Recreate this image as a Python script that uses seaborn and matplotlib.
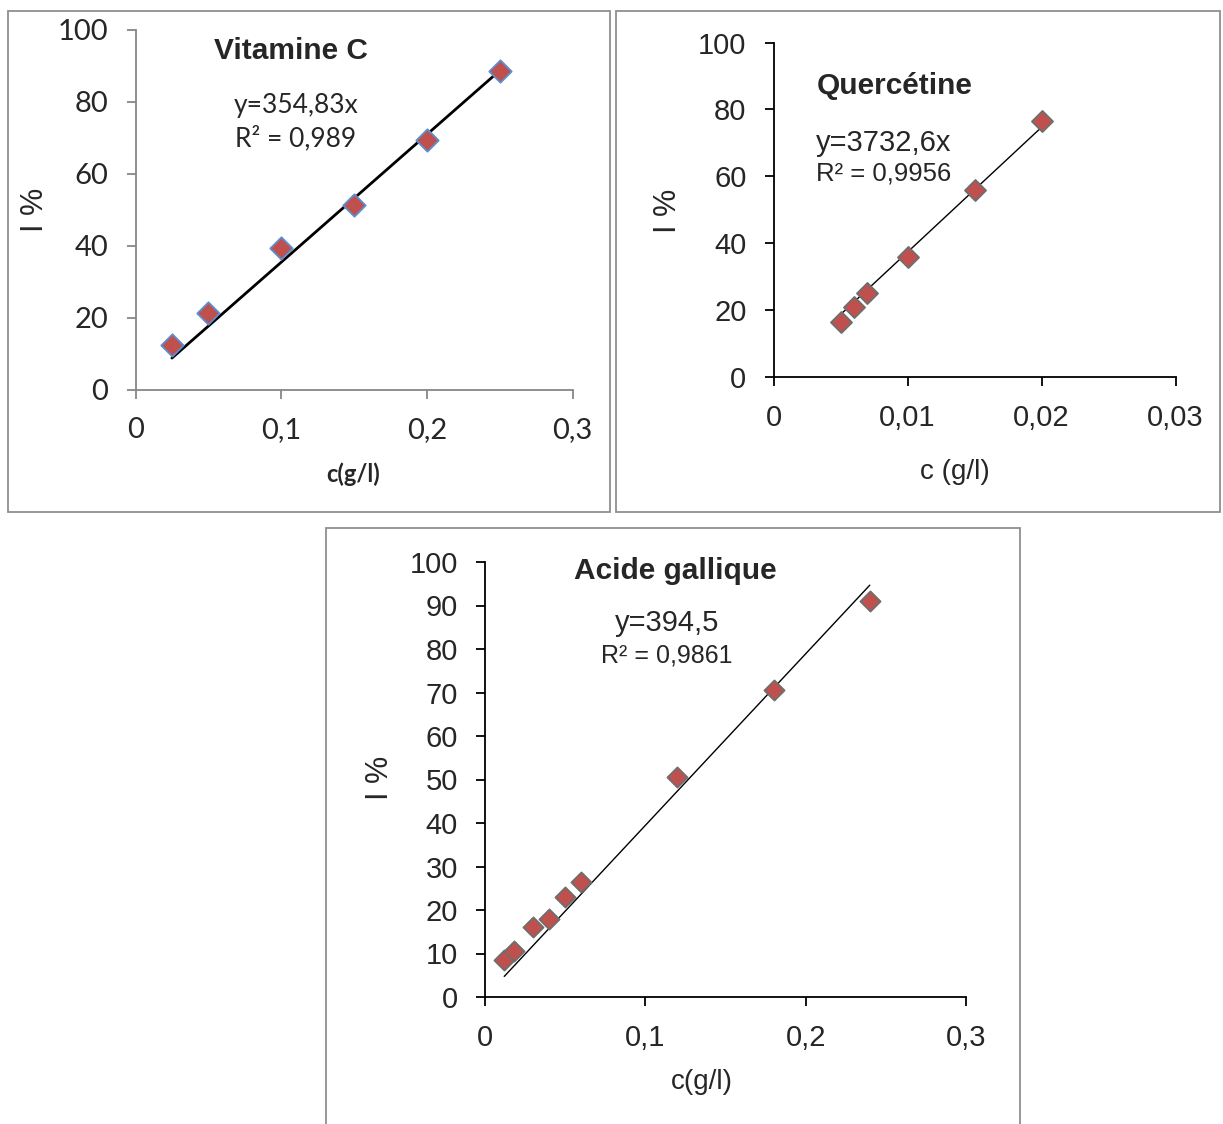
import matplotlib
matplotlib.use("Agg")
import matplotlib.pyplot as plt
import seaborn as sns
import pandas as pd
from matplotlib.patches import Rectangle

# data
vitc_c = [0.025, 0.05, 0.1, 0.15, 0.2, 0.25]
vitc_i = [12.5, 21.5, 39.5, 51.5, 69.5, 88.5]
vitc_slope = 354.83

querc_c = [0.005, 0.006, 0.007, 0.01, 0.015, 0.02]
querc_i = [16.5, 21.0, 25.0, 36.0, 56.0, 76.5]
querc_slope = 3732.6

gall_c = [0.012, 0.018, 0.03, 0.04, 0.05, 0.06, 0.12, 0.18, 0.24]
gall_i = [8.5, 10.5, 16.0, 18.0, 23.0, 26.5, 50.5, 70.5, 91.0]
gall_slope = 394.5

titles = ["Vitamine C", "Quercétine", "Acide gallique"]
equations = ["y=354,83x", "y=3732,6x", "y=394,5"]
r2_labels = ["R² = 0,989", "R² = 0,9956", "R² = 0,9861"]
xlabels = ["c(g/l)", "c (g/l)", "c(g/l)"]

sns.set_style("white")
plt.rcParams['font.family'] = ['Liberation Sans', 'DejaVu Sans']

W, H = 1223, 1124
fig = plt.figure(figsize=(W / 100, H / 100), dpi=100)


def box(l, t, r, b):
    # axes rectangle from pixel edges
    return [l / W, 1 - b / H, (r - l) / W, (b - t) / H]


def px(x, y):
    return x / W, 1 - y / H


# panel borders
for (l, t, r, b) in [(8, 11, 610, 512), (616, 11, 1220, 512), (326, 528, 1020, 1126)]:
    fig.patches.append(Rectangle((l / W, 1 - b / H), (r - l) / W, (b - t) / H,
                                 transform=fig.transFigure, fill=False,
                                 edgecolor="#8f8f8f", linewidth=1.3))


def panel(rect, c, i, slope, xmax, xstep, ystep, spine_col, edge_col, msize, lw, tickfont):
    ax = fig.add_axes(rect)
    df = pd.DataFrame({"c": c, "i": i})
    fit = pd.DataFrame({"c": [min(c), max(c)], "i": [slope * min(c), slope * max(c)]})
    sns.lineplot(data=fit, x="c", y="i", color="black", linewidth=lw, ax=ax, zorder=2)
    sns.scatterplot(data=df, x="c", y="i", marker="D", s=msize, color="#C0504D",
                    edgecolor=edge_col, linewidth=1.3, ax=ax, zorder=3)
    ax.set_xlim(0, xmax)
    ax.set_ylim(0, 100)
    n = int(round(xmax / xstep))
    xt = [k * xstep for k in range(n + 1)]
    ax.set_xticks(xt)
    ax.set_xticklabels([("%g" % v).replace(".", ",") for v in xt])
    ax.set_yticks(range(0, 101, ystep))
    for s in ["top", "right"]:
        ax.spines[s].set_visible(False)
    for s in ["left", "bottom"]:
        ax.spines[s].set_color(spine_col)
        ax.spines[s].set_linewidth(1.3)
    ax.tick_params(axis="both", direction="out", length=6.5, width=1.3, color=spine_col,
                   labelsize=21, left=True, bottom=True)
    ax.tick_params(axis="y", pad=13)
    ax.tick_params(axis="x", pad=13)
    for lab in ax.get_xticklabels() + ax.get_yticklabels():
        lab.set_family(tickfont)
    ax.set_xlabel("")
    ax.set_ylabel("")
    for coll in ax.collections:
        coll.set_clip_on(False)
    return ax


ax1 = panel(box(135.5, 30, 572.5, 390), vitc_c, vitc_i, vitc_slope, 0.3, 0.1, 20,
            "#868686", "#5B8FD0", 130, 2.0, ['Lato', 'DejaVu Sans'])
ax2 = panel(box(773.5, 42.5, 1175.5, 377), querc_c, querc_i, querc_slope, 0.03, 0.01, 20,
            "black", "#6e6e6e", 115, 1.0, ['Liberation Sans'])
ax3 = panel(box(485, 562, 966, 997), gall_c, gall_i, gall_slope, 0.3, 0.1, 10,
            "black", "#6e6e6e", 105, 1.0, ['Liberation Sans'])

# titles
fig.text(*px(290.5, 51), titles[0], ha="center", va="center", fontsize=21.5, fontweight="bold")
fig.text(*px(895, 86), titles[1], ha="center", va="center", fontsize=21.5, fontweight="bold")
fig.text(*px(675, 571), titles[2], ha="center", va="center", fontsize=21.5, fontweight="bold")

# equations
fig.text(*px(296, 105), equations[0], ha="center", va="center", fontsize=19, family=['Lato'])
fig.text(*px(296, 138), r2_labels[0], ha="center", va="center", fontsize=19, family=['Lato'])
fig.text(*px(816, 143), equations[1], ha="left", va="center", fontsize=21)
fig.text(*px(816, 173), r2_labels[1], ha="left", va="center", fontsize=18.5)
fig.text(*px(667, 623), equations[2], ha="center", va="center", fontsize=21)
fig.text(*px(667, 655), r2_labels[2], ha="center", va="center", fontsize=18)

# axis labels
fig.text(*px(35, 210), "I %", ha="center", va="center", rotation=90, fontsize=22)
fig.text(*px(668, 211), "I %", ha="center", va="center", rotation=90, fontsize=22)
fig.text(*px(380, 778), "I %", ha="center", va="center", rotation=90, fontsize=22)
fig.text(*px(353, 474), xlabels[0], ha="center", va="center", fontsize=17,
         fontweight="bold", family=['Lato'])
fig.text(*px(955, 472), xlabels[1], ha="center", va="center", fontsize=20)
fig.text(*px(702, 1082), xlabels[2], ha="center", va="center", fontsize=20)

fig.savefig("out.png", dpi=100)
